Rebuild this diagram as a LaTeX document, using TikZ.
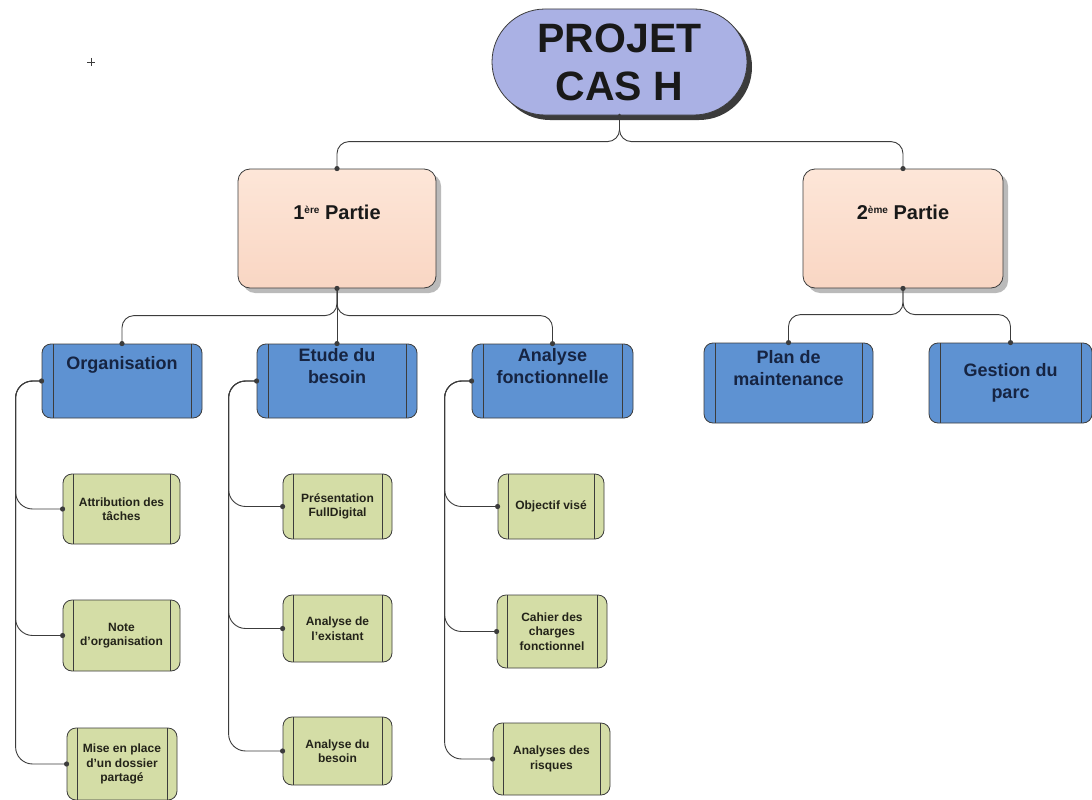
\documentclass[tikz,border=0pt]{standalone}
\usepackage{fontspec}
\setmainfont{Liberation Sans}
\usetikzlibrary{shapes.misc,shadows,calc}
\definecolor{rootfill}{RGB}{170,177,228}
\definecolor{parttop}{RGB}{253,230,216}
\definecolor{partbot}{RGB}{249,214,195}
\definecolor{bluefill}{RGB}{94,146,210}
\definecolor{greenfill}{RGB}{212,221,166}
\definecolor{navytext}{RGB}{22,36,66}
\definecolor{linecol}{RGB}{60,60,60}
\definecolor{leaftext}{RGB}{35,35,25}
\begin{document}
\begin{tikzpicture}[x=1pt,y=-1pt,
  rootbox/.style={rounded rectangle, draw=linecol, line width=0.8pt, fill=rootfill,
    minimum width=255pt, minimum height=106pt, inner sep=0pt, align=center,
    font=\fontsize{41}{48}\selectfont\bfseries, text=black!90,
    drop shadow={shadow xshift=5pt, shadow yshift=-5pt, fill=black!85, opacity=0.9}},
  partbox/.style={rectangle, rounded corners=12pt, draw=linecol, line width=0.8pt,
    top color=parttop, bottom color=partbot, inner sep=0pt,
    minimum width=198pt, minimum height=119pt,
    drop shadow={shadow xshift=5pt, shadow yshift=-5pt, fill=black!45, opacity=0.6}},
  parttext/.style={font=\fontsize{20}{24}\selectfont\bfseries, text=black!90, inner sep=0pt},
  bluebox/.style={rectangle, rounded corners=9pt, draw=linecol, line width=0.8pt,
    fill=bluefill, inner sep=0pt,
    path picture={
      \draw[linecol, line width=0.7pt]
        ([xshift=11pt]path picture bounding box.north west) -- ([xshift=11pt]path picture bounding box.south west)
        ([xshift=-11pt]path picture bounding box.north east) -- ([xshift=-11pt]path picture bounding box.south east);}},
  bluetext/.style={font=\fontsize{18}{22}\selectfont\bfseries, text=navytext, align=center, inner sep=0pt, anchor=center},
  leafbox/.style={rectangle, rounded corners=9pt, draw=linecol, line width=0.8pt,
    fill=greenfill, inner sep=0pt, align=center,
    font=\fontsize{12}{14.5}\selectfont\bfseries, text=leaftext,
    path picture={
      \draw[linecol, line width=0.7pt]
        ([xshift=10pt]path picture bounding box.north west) -- ([xshift=10pt]path picture bounding box.south west)
        ([xshift=-10pt]path picture bounding box.north east) -- ([xshift=-10pt]path picture bounding box.south east);}},
  conn/.style={draw=linecol, line width=0.9pt, rounded corners=12pt},
  leafconn/.style={draw=linecol, line width=0.9pt, rounded corners=17pt},
  dotmark/.style={fill=linecol}
]
\useasboundingbox (0,0) rectangle (1092,800);
\fill[white] (0,0) rectangle (1092,800);

% stray cross mark
\draw[linecol, line width=0.6pt] (87,62) -- (95,62) (91,58) -- (91,66);

% root
\node[rootbox] (root) at (619.5,62) {PROJET\\CAS H};

% parts
\node[partbox, label={[name=p1t, parttext, anchor=center, yshift=-44pt]north:1{\fontsize{10}{10}\selectfont\raisebox{6pt}{ère}} Partie}] (p1) at (337,228.5) {};
\node[partbox, minimum width=200pt, label={[name=p2t, parttext, anchor=center, yshift=-44pt]north:2{\fontsize{10}{10}\selectfont\raisebox{6pt}{ème}} Partie}] (p2) at (903,228.5) {};

% blue boxes
\node[bluebox, minimum width=160pt, minimum height=74pt,
  label={[name=orgt, bluetext, yshift=-21pt]north:Organisation}] (org) at (122,381) {};
\node[bluebox, minimum width=160pt, minimum height=74pt,
  label={[name=etut, bluetext, yshift=-22pt]north:Etude du\\besoin}] (etu) at (337,381) {};
\node[bluebox, minimum width=161pt, minimum height=74pt,
  label={[name=anat, bluetext, yshift=-22pt]north:Analyse\\fonctionnelle}] (ana) at (552.5,381) {};
\node[bluebox, minimum width=169pt, minimum height=80pt,
  label={[name=plant, bluetext, yshift=-25pt]north:Plan de\\maintenance}] (plan) at (788.5,383) {};
\node[bluebox, minimum width=163pt, minimum height=80pt,
  label={[name=gest, bluetext, yshift=-40pt]north:Gestion du\\parc}] (ges) at (1010.5,383) {};

% leaves
\node[leafbox, minimum width=117pt, minimum height=70pt] (a1) at (121.5,509) {Attribution des\\tâches};
\node[leafbox, minimum width=117pt, minimum height=71pt] (a2) at (121.5,635.5) {Note\\d'organisation};
\node[leafbox, minimum width=110pt, minimum height=72pt] (a3) at (122,764) {Mise en place\\d'un dossier\\partagé};

\node[leafbox, minimum width=109pt, minimum height=65pt] (b1) at (337.5,506.5) {Présentation\\FullDigital};
\node[leafbox, minimum width=109pt, minimum height=67pt] (b2) at (337.5,628.5) {Analyse de\\l'existant};
\node[leafbox, minimum width=109pt, minimum height=68pt] (b3) at (337.5,751) {Analyse du\\besoin};

\node[leafbox, minimum width=106pt, minimum height=65pt] (c1) at (551,506.5) {Objectif visé};
\node[leafbox, minimum width=110pt, minimum height=73pt] (c2) at (552,631.5) {Cahier des\\charges\\fonctionnel};
\node[leafbox, minimum width=117pt, minimum height=72pt] (c3) at (551.5,759) {Analyses des\\risques};

% connectors: root -> parts
\draw[conn] (root.south) |- ([yshift=27pt]p1.north) -- (p1.north);
\draw[conn] (root.south) |- ([yshift=27pt]p2.north) -- (p2.north);

% parts -> blue
\draw[conn] (p1.south) |- ([yshift=28pt]org.north) -- (org.north);
\draw[conn] (p1.south) -- (etu.north);
\draw[conn] (p1.south) |- ([yshift=28pt]ana.north) -- (ana.north);
\draw[conn] (p2.south) |- ([yshift=28pt]plan.north) -- (plan.north);
\draw[conn] (p2.south) |- ([yshift=28pt]ges.north) -- (ges.north);

% blue -> leaves
\foreach \l in {a1,a2,a3} \draw[leafconn] (org.west) -- ++(-26,0) |- (\l.west);
\foreach \l in {b1,b2,b3} \draw[leafconn] (etu.west) -- ++(-28,0) |- (\l.west);
\foreach \l in {c1,c2,c3} \draw[leafconn] (ana.west) -- ++(-27,0) |- (\l.west);

% connection dots
\foreach \a in {root.south}
  \fill[dotmark] (\a) circle (1.8pt);
\foreach \a in {p1.north,p1.south,p2.north,p2.south,org.north,etu.north,ana.north,plan.north,ges.north,
                org.west,etu.west,ana.west,a1.west,a2.west,a3.west,b1.west,b2.west,b3.west,c1.west,c2.west,c3.west}
  \fill[dotmark] (\a) circle (2.6pt);
\end{tikzpicture}
\end{document}
